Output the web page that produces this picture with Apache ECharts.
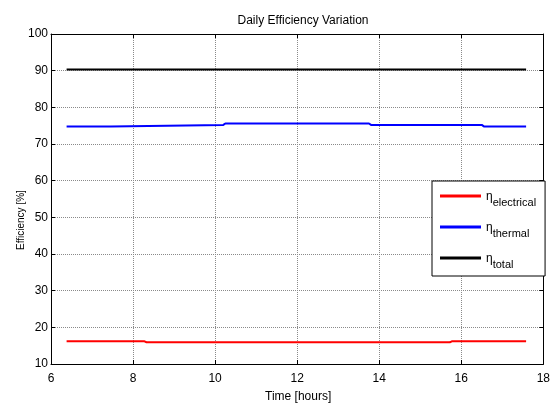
<!DOCTYPE html>
<html><head><meta charset="utf-8">
<script src="https://cdn.jsdelivr.net/npm/echarts@6/dist/echarts.min.js"></script>
<style>html,body{margin:0;padding:0;background:#fff}#c{width:553px;height:406px}</style>
</head><body><div id="c"></div>
<script>
const xTicks = [6, 8, 10, 12, 14, 16, 18];
const yTicks = [10, 20, 30, 40, 50, 60, 70, 80, 90, 100];
const timeElectrical = [6.38, 8.28, 8.33, 15.72, 15.77, 17.58];
const electrical = [16.2, 16.2, 15.9, 15.9, 16.2, 16.2];
const timeThermal = [6.38, 7.46, 7.5, 10.2, 10.25, 13.75, 13.8, 16.5, 16.55, 17.58];
const thermal = [74.8, 74.8, 75.2, 75.2, 75.6, 75.6, 75.2, 75.2, 74.8, 74.8];
const timeTotal = [6.38, 17.58];
const total = [90.3, 90.3];
const seriesNames = ['electrical', 'thermal', 'total'];
const seriesColors = ['#ff0000', '#0000ff', '#000000'];

const FONT = '"Liberation Sans Narrow", "Liberation Sans", Arial, sans-serif';
const pairs = (xs, ys) => xs.map((x, i) => [x, ys[i]]);
const chart = echarts.init(document.getElementById('c'));
const xBase = {
  type: 'value', min: xTicks[0], max: xTicks[xTicks.length - 1], interval: 2,
  axisLine: { show: true, onZero: false, lineStyle: { color: '#000', width: 1 } },
  axisTick: { show: true, inside: true, length: 4, lineStyle: { color: '#000' } },
  splitLine: { show: false }
};
const yBase = {
  type: 'value', min: yTicks[0], max: yTicks[yTicks.length - 1], interval: 10,
  axisLine: { show: true, onZero: false, lineStyle: { color: '#000', width: 1 } },
  axisTick: { show: true, inside: true, length: 4, lineStyle: { color: '#000' } },
  splitLine: { show: false }
};
chart.setOption({
  animation: false,
  backgroundColor: '#fff',
  title: {
    text: 'Daily Efficiency Variation', left: 298, top: 10, textAlign: 'center',
    textStyle: { fontFamily: FONT, fontSize: 12, fontWeight: 'normal', color: '#000' }
  },
  grid: { left: 51, right: 8, top: 34, bottom: 42, containLabel: false },
  xAxis: [
    Object.assign({}, xBase, {
      position: 'bottom',
      axisLabel: { color: '#000', fontFamily: FONT, fontSize: 12, margin: 9 },
      splitLine: { show: true, lineStyle: { color: '#8a8a8a', type: [1, 1], width: 1 } }
    }),
    Object.assign({}, xBase, { position: 'top', axisLabel: { show: false } })
  ],
  yAxis: [
    Object.assign({}, yBase, {
      position: 'left',
      axisLabel: { color: '#000', fontFamily: FONT, fontSize: 12, margin: 3 },
      splitLine: { show: true, lineStyle: { color: '#8a8a8a', type: [1, 1], width: 1 } }
    }),
    Object.assign({}, yBase, { position: 'right', axisLabel: { show: false } })
  ],
  graphic: [
    { type: 'text', left: 265, top: 391, style: { text: 'Time [hours]', font: '12px ' + FONT, fill: '#000' } },
    { type: 'text', x: 16, y: 250, rotation: Math.PI / 2, style: { text: 'Efficiency [%]', font: '10px "Liberation Sans", Arial, sans-serif', fill: '#000' } }
  ],
  legend: {
    orient: 'vertical', left: 432, top: 181,
    padding: [8, 9, 6, 8], itemGap: 12, itemWidth: 41, itemHeight: 3,
    backgroundColor: '#fff', borderColor: '#000', borderWidth: 1, borderRadius: 0,
    icon: 'rect',
    data: seriesNames.map(n => ({ name: n, icon: 'rect' })),
    formatter: n => '{a|η}{b|' + n + '}',
    textStyle: {
      color: '#000', fontFamily: FONT,
      rich: {
        a: { fontSize: 12, fontFamily: FONT, color: '#000', verticalAlign: 'bottom', lineHeight: 14 },
        b: { fontSize: 11, fontFamily: FONT, color: '#000', verticalAlign: 'top', lineHeight: 14, padding: [8, 0, 0, 0] }
      }
    }
  },
  series: [
    { name: seriesNames[0], type: 'line', data: pairs(timeElectrical, electrical), symbol: 'none', lineStyle: { color: seriesColors[0], width: 2 }, itemStyle: { color: seriesColors[0] } },
    { name: seriesNames[1], type: 'line', data: pairs(timeThermal, thermal), symbol: 'none', lineStyle: { color: seriesColors[1], width: 2 }, itemStyle: { color: seriesColors[1] } },
    { name: seriesNames[2], type: 'line', data: pairs(timeTotal, total), symbol: 'none', lineStyle: { color: seriesColors[2], width: 2 }, itemStyle: { color: seriesColors[2] } }
  ]
});
</script></body></html>
